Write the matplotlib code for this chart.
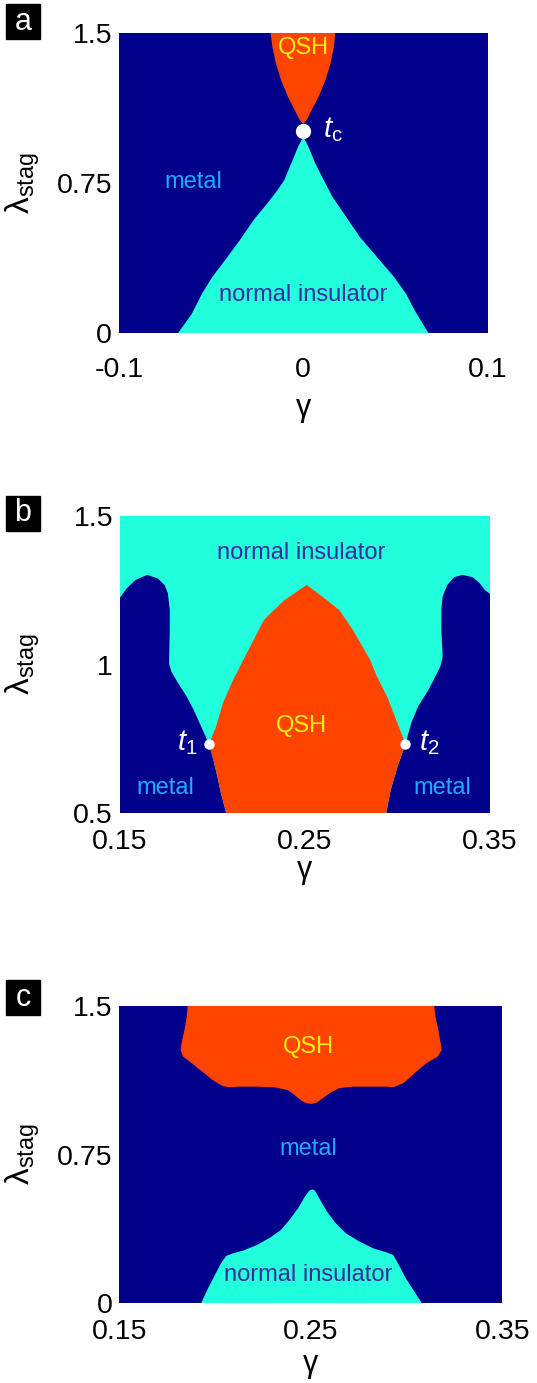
import matplotlib
matplotlib.use("Agg")
import matplotlib.pyplot as plt
from matplotlib.patches import Rectangle

plt.rcParams['font.family'] = ['Liberation Sans', 'DejaVu Sans']
plt.rcParams['mathtext.fontset'] = 'custom'
plt.rcParams['mathtext.rm'] = 'Liberation Sans'
plt.rcParams['mathtext.it'] = 'Liberation Sans:italic'
plt.rcParams['mathtext.bf'] = 'Liberation Sans:bold'
plt.rcParams['axes.unicode_minus'] = False

# ---------------- colours ----------------
NAVY = '#00008B'
CYAN = '#22FFDD'
RED = '#FF4400'
C_METAL = '#22AAFF'
C_NI = '#3B2C9E'
C_QSH = '#FFF200'

# ---------------- panel a data ----------------
a_xticks = [-0.1, 0.0, 0.1]
a_xticklabels = ['-0.1', '0', '0.1']
a_yticks = [0.0, 0.75, 1.5]
a_yticklabels = ['0', '0.75', '1.5']
# QSH boundaries (top -> apex)
a_qsh_left_x = [-0.0177, -0.0168, -0.0149, -0.0121, -0.0084, -0.0047, -0.0019, 0.0]
a_qsh_left_y = [1.5, 1.433, 1.350, 1.266, 1.183, 1.116, 1.066, 1.046]
a_qsh_right_x = [0.0173, 0.0167, 0.0149, 0.0121, 0.0084, 0.0046, 0.0019, 0.0]
a_qsh_right_y = [1.5, 1.433, 1.350, 1.266, 1.183, 1.116, 1.066, 1.046]
# normal insulator boundaries (bottom -> apex)
a_ni_left_x = [-0.068, -0.0605, -0.055, -0.0494, -0.0419, -0.0345, -0.027, -0.0196, -0.014, -0.0103, -0.0065, -0.0028, 0.0]
a_ni_left_y = [0.0, 0.097, 0.197, 0.281, 0.372, 0.464, 0.565, 0.648, 0.715, 0.765, 0.849, 0.932, 0.982]
a_ni_right_x = [0.068, 0.0605, 0.0558, 0.0493, 0.040, 0.0307, 0.0233, 0.0158, 0.0093, 0.0065, 0.0028, 0.0]
a_ni_right_y = [0.0, 0.114, 0.197, 0.281, 0.381, 0.481, 0.581, 0.682, 0.798, 0.849, 0.932, 0.982]
a_tc = (0.0, 1.01)

# ---------------- panel b data ----------------
b_xticks = [0.15, 0.25, 0.35]
b_xticklabels = ['0.15', '0.25', '0.35']
b_yticks = [0.5, 1.0, 1.5]
b_yticklabels = ['0.5', '1', '1.5']
# left metal: upper boundary from left edge to t1
b_lmetal_x = [0.15, 0.1537, 0.1583, 0.1648, 0.1704, 0.1741, 0.1759, 0.1769, 0.1769, 0.1765, 0.1778,
              0.1815, 0.1861, 0.1898, 0.1935, 0.1963, 0.1981]
b_lmetal_y = [1.226, 1.257, 1.285, 1.302, 1.290, 1.268, 1.240, 1.184, 1.117, 1.004, 0.976,
              0.937, 0.892, 0.848, 0.797, 0.758, 0.733]
# metal / QSH boundary below t1 (t1 -> bottom)
b_lq_x = [0.1981, 0.2000, 0.2022, 0.2046, 0.2074]
b_lq_y = [0.733, 0.691, 0.635, 0.567, 0.5]
# QSH / normal insulator boundary (t1 -> t2)
b_qsh_top_x = [0.1981, 0.2019, 0.2056, 0.2111, 0.2167, 0.2222, 0.2278, 0.2315, 0.2389, 0.2509,
               0.2593, 0.2685, 0.2759, 0.2852, 0.2889, 0.2944, 0.3000, 0.3043]
b_qsh_top_y = [0.733, 0.791, 0.870, 0.948, 1.016, 1.083, 1.150, 1.173, 1.217, 1.268,
               1.229, 1.184, 1.117, 1.016, 0.960, 0.892, 0.803, 0.733]
# metal / QSH boundary below t2 (t2 -> bottom)
b_rq_x = [0.3043, 0.3000, 0.2963, 0.2939]
b_rq_y = [0.733, 0.657, 0.578, 0.5]
# right metal: upper boundary from t2 to right edge
b_rmetal_x = [0.3043, 0.3074, 0.3111, 0.3167, 0.3204, 0.3231, 0.3244, 0.3237, 0.3237, 0.3244,
              0.3269, 0.3306, 0.3352, 0.3407, 0.3444, 0.3472, 0.35]
b_rmetal_y = [0.733, 0.803, 0.859, 0.915, 0.960, 0.993, 1.027, 1.117, 1.184, 1.229,
              1.268, 1.294, 1.302, 1.294, 1.274, 1.251, 1.238]
b_t1 = (0.1981, 0.732)
b_t2 = (0.3043, 0.732)

# ---------------- panel c data ----------------
c_xticks = [0.15, 0.25, 0.35]
c_xticklabels = ['0.15', '0.25', '0.35']
c_yticks = [0.0, 0.75, 1.5]
c_yticklabels = ['0', '0.75', '1.5']
c_qsh_x = [0.1857, 0.1852, 0.1840, 0.1825, 0.1820, 0.1834, 0.1879, 0.1933, 0.1986, 0.2040, 0.2075,
           0.2129, 0.2218, 0.2308, 0.2379, 0.2415, 0.2451, 0.2478, 0.2504, 0.2531, 0.2567, 0.2603,
           0.2647, 0.2719, 0.2808, 0.2898, 0.2933, 0.2987, 0.3041, 0.3103, 0.3162, 0.3184, 0.3178,
           0.3166, 0.3151, 0.3144]
c_qsh_y = [1.5, 1.446, 1.379, 1.312, 1.278, 1.244, 1.211, 1.169, 1.127, 1.096, 1.090,
           1.093, 1.093, 1.090, 1.076, 1.051, 1.022, 1.009, 1.006, 1.012, 1.038, 1.063,
           1.085, 1.093, 1.093, 1.093, 1.090, 1.113, 1.160, 1.211, 1.244, 1.278, 1.312,
           1.379, 1.446, 1.5]
c_ni_x = [0.1927, 0.1959, 0.1995, 0.2031, 0.2058, 0.2093, 0.2147, 0.2218, 0.2290, 0.2344, 0.2388,
          0.2433, 0.2469, 0.2492, 0.2508, 0.2522, 0.2549, 0.2585, 0.2630, 0.2683, 0.2755, 0.2826,
          0.2898, 0.2930, 0.2960, 0.2996, 0.3041, 0.3080]
c_ni_y = [0.0, 0.067, 0.135, 0.202, 0.239, 0.252, 0.266, 0.294, 0.333, 0.370, 0.420,
          0.479, 0.538, 0.568, 0.575, 0.568, 0.521, 0.462, 0.404, 0.353, 0.311, 0.277,
          0.256, 0.244, 0.193, 0.126, 0.059, 0.0]

W, H = 537, 1383
fig = plt.figure(figsize=(W / 100, H / 100), dpi=100)


def add_axes(l, t, r, b):
    return fig.add_axes([l / W, 1 - b / H, (r - l) / W, (b - t) / H])


def style(ax, xlim, ylim, xt, xtl, yt, ytl, xpad, ylab_x, xlab_y):
    ax.set_xlim(*xlim)
    ax.set_ylim(*ylim)
    ax.set_xticks(xt)
    ax.set_xticklabels(xtl)
    ax.set_yticks(yt)
    ax.set_yticklabels(ytl)
    ax.tick_params(axis='both', length=0, labelsize=20.5)
    ax.tick_params(axis='x', pad=xpad)
    ax.tick_params(axis='y', pad=5)
    for s in ax.spines.values():
        s.set_visible(False)
    ax.set_xlabel('γ', fontsize=22)
    ax.set_ylabel(r'$\mathrm{λ}_{\mathrm{stag}}$', fontsize=24)
    ax.yaxis.set_label_coords(ylab_x, 0.5)
    ax.xaxis.set_label_coords(0.5, xlab_y)


def panel_letter(letter, top):
    fig.patches.append(Rectangle((6 / W, 1 - (top + 35) / H), 34 / W, 35 / H,
                                 transform=fig.transFigure, color='black', zorder=5))
    fig.text(23 / W, 1 - (top + 17.5) / H, letter, color='white', fontsize=22,
             ha='center', va='center', zorder=6)


# ---------------- panel a ----------------
ax = add_axes(119, 33, 487.5, 333.3)
ax.set_facecolor(NAVY)
ax.fill(a_qsh_left_x + a_qsh_right_x[::-1], a_qsh_left_y + a_qsh_right_y[::-1],
        color=RED, lw=0)
ax.fill(a_ni_left_x + a_ni_right_x[::-1], a_ni_left_y + a_ni_right_y[::-1],
        color=CYAN, lw=0)
ax.plot([a_tc[0]], [a_tc[1]], 'o', color='white', ms=11, mew=0)
ax.text(0.0106, 0.98, r'$\mathit{t}_{\mathrm{c}}$', color='white', fontsize=21,
        ha='left', va='baseline')
ax.text(0.0, 1.425, 'QSH', color=C_QSH, fontsize=17, ha='center', va='center')
ax.text(-0.0596, 0.757, 'metal', color=C_METAL, fontsize=17, ha='center', va='center')
ax.text(0.0, 0.189, 'normal insulator', color=C_NI, fontsize=17, ha='center', va='center')
style(ax, (-0.1, 0.1), (0, 1.5), a_xticks, a_xticklabels, a_yticks, a_yticklabels,
      17, -0.21, -0.2)
panel_letter('a', 4)

# ---------------- panel b ----------------
ax = add_axes(120, 516, 490, 813.3)
ax.set_facecolor(CYAN)
ax.fill([0.15] + b_lmetal_x + b_lq_x[1:], [0.5] + b_lmetal_y + b_lq_y[1:], color=NAVY, lw=0)
ax.fill(b_rq_x[::-1] + b_rmetal_x + [0.35], b_rq_y[::-1] + b_rmetal_y + [0.5], color=NAVY, lw=0)
ax.fill(b_lq_x[::-1] + b_qsh_top_x[1:] + b_rq_x[1:], b_lq_y[::-1] + b_qsh_top_y[1:] + b_rq_y[1:],
        color=RED, lw=0)
ax.plot([b_t1[0], b_t2[0]], [b_t1[1], b_t2[1]], 'o', color='white', ms=7.5, mew=0)
ax.text(0.1917, 0.713, r'$\mathit{t}_{1}$', color='white', fontsize=21, ha='right', va='baseline')
ax.text(0.3115, 0.713, r'$\mathit{t}_{2}$', color='white', fontsize=21, ha='left', va='baseline')
ax.text(0.2481, 1.374, 'normal insulator', color=C_NI, fontsize=17, ha='center', va='center')
ax.text(0.2481, 0.794, 'QSH', color=C_QSH, fontsize=17, ha='center', va='center')
ax.text(0.1746, 0.586, 'metal', color=C_METAL, fontsize=17, ha='center', va='center')
ax.text(0.324, 0.586, 'metal', color=C_METAL, fontsize=17, ha='center', va='center')
style(ax, (0.15, 0.35), (0.5, 1.5), b_xticks, b_xticklabels, b_yticks, b_yticklabels,
      11, -0.21, -0.14)
panel_letter('b', 496)

# ---------------- panel c ----------------
ax = add_axes(119.3, 1006, 502.3, 1303.3)
ax.set_facecolor(NAVY)
ax.fill(c_qsh_x, c_qsh_y, color=RED, lw=0)
ax.fill(c_ni_x, c_ni_y, color=CYAN, lw=0)
ax.text(0.2486, 1.295, 'QSH', color=C_QSH, fontsize=17, ha='center', va='center')
ax.text(0.2486, 0.777, 'metal', color=C_METAL, fontsize=17, ha='center', va='center')
ax.text(0.2486, 0.143, 'normal insulator', color=C_NI, fontsize=17, ha='center', va='center')
style(ax, (0.15, 0.35), (0, 1.5), c_xticks, c_xticklabels, c_yticks, c_yticklabels,
      11, -0.202, -0.155)
panel_letter('c', 980)

fig.savefig('out.png', dpi=100)
